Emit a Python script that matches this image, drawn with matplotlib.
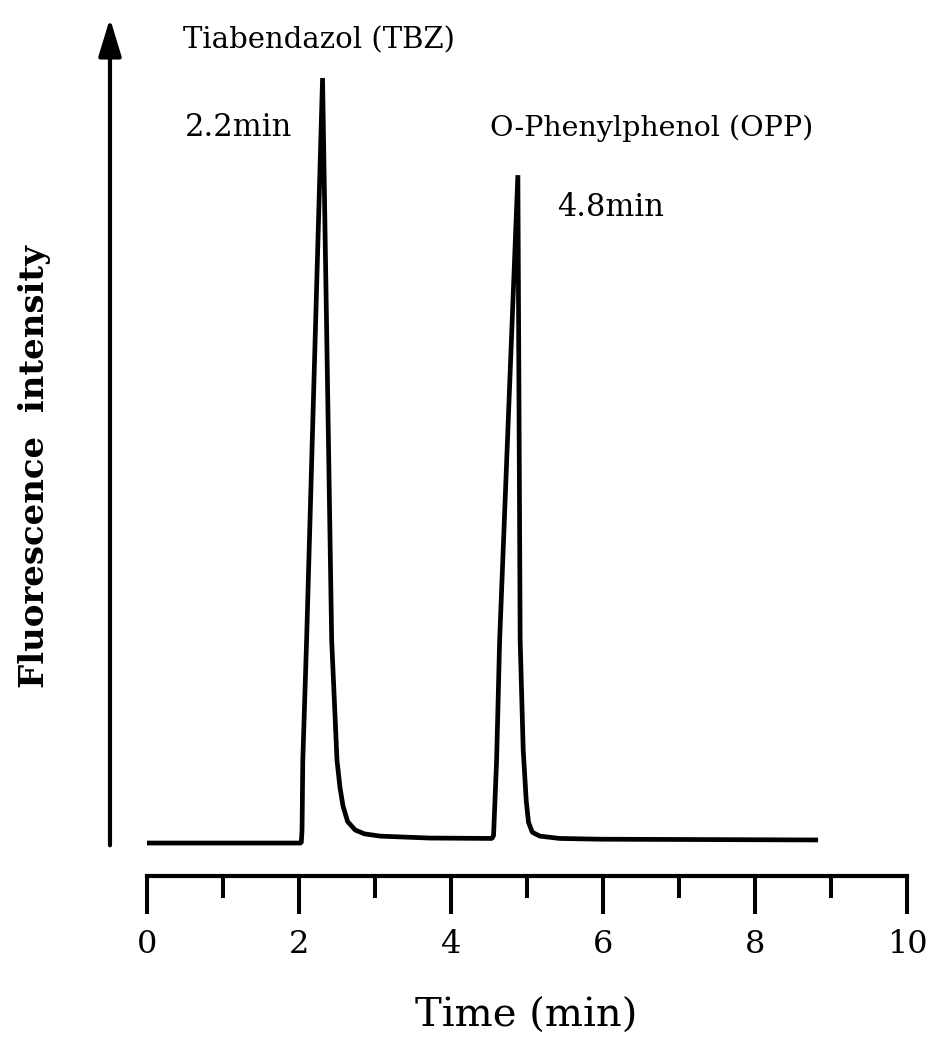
import matplotlib
matplotlib.use("Agg")
import matplotlib.pyplot as plt

# Chromatogram trace (time in min, relative intensity)
time_min = [0.00, 2.03, 2.04, 2.05, 2.10, 2.31, 2.43, 2.50, 2.54, 2.58, 2.64,
            2.74, 2.86, 3.07, 3.72, 4.54, 4.56, 4.60, 4.64, 4.88, 4.91, 4.95,
            4.99, 5.02, 5.07, 5.17, 5.43, 5.96, 8.83]
intensity = [0.0, 0.0, 1.7, 10.8, 26.5, 100.0, 26.5, 10.8, 7.2, 4.8, 2.8,
             1.7, 1.2, 0.9, 0.65, 0.6, 1.0, 10.8, 26.5, 87.3, 26.5, 12.2,
             5.5, 2.7, 1.4, 0.9, 0.6, 0.5, 0.4]

x_ticks_major = [0, 2, 4, 6, 8, 10]
x_tick_labels = ["0", "2", "4", "6", "8", "10"]
x_ticks_minor = [1, 3, 5, 7, 9]

peak_names = ["Tiabendazol (TBZ)", "O-Phenylphenol (OPP)"]
peak_times = ["2.2min", "4.8min"]
x_label = "Time (min)"
y_label = "Fluorescence  intensity"

W, H = 926, 1045
fig = plt.figure(figsize=(W / 100, H / 100), dpi=100)
ax = fig.add_axes([147 / W, (H - 876) / H, 760 / W, 876 / H])

ax.plot(time_min, intensity, color="black", lw=3.4, solid_joinstyle="bevel",
        solid_capstyle="butt")
ax.set_xlim(0, 10)
ax.set_ylim(-4.31, 110.2)

for s in ["top", "right", "left"]:
    ax.spines[s].set_visible(False)
ax.spines["bottom"].set_linewidth(3.0)
ax.spines["bottom"].set_capstyle("projecting")
ax.set_yticks([])
ax.set_xticks(x_ticks_major)
ax.set_xticklabels(x_tick_labels)
ax.set_xticks(x_ticks_minor, minor=True)
ax.tick_params(axis="x", which="major", direction="out", length=27, width=2.9,
               pad=11, labelsize=23)
ax.tick_params(axis="x", which="minor", direction="out", length=16, width=2.9)
for lab in ax.get_xticklabels():
    lab.set_fontfamily("DejaVu Serif")

# vertical intensity arrow
ax.annotate("", xy=(-0.487, 107.8), xytext=(-0.487, -0.3),
            arrowprops=dict(arrowstyle="-|>,head_length=2.3,head_width=0.7",
                            lw=3.0, color="black", shrinkA=0, shrinkB=0),
            annotation_clip=False)

serif = "DejaVu Serif"
fig.text(183 / W, 1 - 40 / H, peak_names[0], ha="left", va="center",
         fontsize=21, family=serif)
fig.text(185 / W, 1 - 128 / H, peak_times[0], ha="left", va="center",
         fontsize=22, family=serif)
fig.text(490 / W, 1 - 128 / H, peak_names[1], ha="left", va="center",
         fontsize=20.5, family=serif)
fig.text(557 / W, 1 - 207 / H, peak_times[1], ha="left", va="center",
         fontsize=22, family=serif)
fig.text(526 / W, 1 - 1016 / H, x_label, ha="center", va="center",
         fontsize=29, family=serif)
fig.text(35 / W, 1 - 467 / H, y_label, ha="center", va="center",
         rotation=90, fontsize=24.5, family=serif, weight="bold")

fig.savefig("out.png", dpi=100, facecolor="white")
